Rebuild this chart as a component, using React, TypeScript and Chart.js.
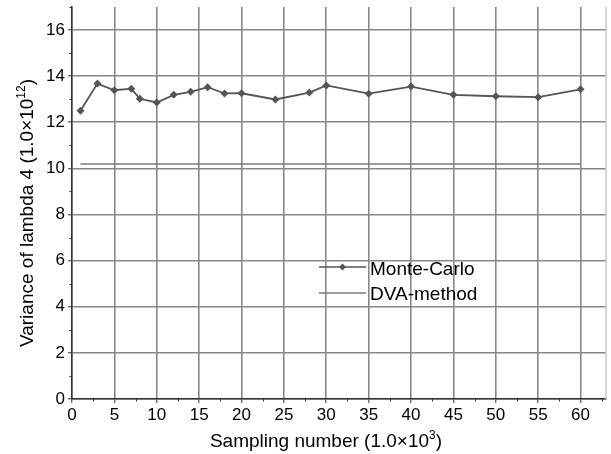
import React, { useEffect, useRef } from "react";
import { Chart, registerables } from "chart.js";

Chart.register(...registerables);

const sampleNumbers = [1, 3, 5, 7, 8, 10, 12, 14, 16, 18, 20, 24, 28, 30, 35, 40, 45, 50, 55, 60];
const monteCarlo = [12.5, 13.68, 13.39, 13.46, 13.02, 12.86, 13.19, 13.32, 13.52, 13.25, 13.26, 12.99, 13.29, 13.6, 13.24, 13.55, 13.19, 13.13, 13.09, 13.43];
const dvaX = [1, 60];
const dvaY = [10.19, 10.19];
const seriesNames = ["Monte-Carlo", "DVA-method"];
const xMinorTicks = [2.5, 7.5, 12.5, 17.5, 22.5, 27.5, 32.5, 37.5, 42.5, 47.5, 52.5, 57.5, 62.5];
const yMinorTicks = [1, 3, 5, 7, 9, 11, 13, 15, 17];

const FONT = '"Liberation Sans", Arial, sans-serif';
const MC_COLOR = "#555555";
const DVA_COLOR = "#7a7a7a";
const GRID = "#888888";
const AXIS = "#333333";

type Part = { t: string; sup?: boolean };

function partsWidth(ctx: CanvasRenderingContext2D, parts: Part[], size: number) {
  let w = 0;
  for (const p of parts) {
    ctx.font = `${p.sup ? Math.round(size * 0.62) : size}px ${FONT}`;
    w += ctx.measureText(p.t).width;
  }
  return w;
}

function drawParts(ctx: CanvasRenderingContext2D, parts: Part[], x: number, y: number, size: number) {
  let cx = x;
  for (const p of parts) {
    const s = p.sup ? Math.round(size * 0.62) : size;
    ctx.font = `${s}px ${FONT}`;
    ctx.fillText(p.t, cx, p.sup ? y - size * 0.4 : y);
    cx += ctx.measureText(p.t).width;
  }
}

const decorPlugin = {
  id: "decor",
  afterDraw(chart: any) {
    const ctx: CanvasRenderingContext2D = chart.ctx;
    const xs = chart.scales.x;
    const ys = chart.scales.y;
    const area = chart.chartArea;
    ctx.save();
    // right border
    ctx.strokeStyle = "#c8c8c8";
    ctx.lineWidth = 1.5;
    ctx.beginPath();
    ctx.moveTo(area.right, area.top);
    ctx.lineTo(area.right, area.bottom);
    ctx.stroke();
    // minor ticks
    ctx.strokeStyle = AXIS;
    ctx.lineWidth = 1;
    ctx.beginPath();
    for (const v of xMinorTicks) {
      const px = Math.round(xs.getPixelForValue(v)) + 0.5;
      ctx.moveTo(px, area.bottom);
      ctx.lineTo(px, area.bottom + 2.5);
    }
    for (const v of yMinorTicks) {
      const py = Math.round(ys.getPixelForValue(v)) + 0.5;
      ctx.moveTo(area.left, py);
      ctx.lineTo(area.left - 2.5, py);
    }
    ctx.stroke();

    // legend
    const lx0 = 319, lx1 = 366, tx = 370;
    const rows = [
      { y: 267, color: MC_COLOR, marker: true, name: seriesNames[0], base: 275 },
      { y: 293, color: DVA_COLOR, marker: false, name: seriesNames[1], base: 300 },
    ];
    for (const r of rows) {
      ctx.strokeStyle = r.color;
      ctx.lineWidth = 1.6;
      ctx.beginPath();
      ctx.moveTo(lx0, r.y);
      ctx.lineTo(lx1, r.y);
      ctx.stroke();
      if (r.marker) {
        const mx = (lx0 + lx1) / 2;
        ctx.fillStyle = r.color;
        ctx.beginPath();
        ctx.moveTo(mx, r.y - 3.5);
        ctx.lineTo(mx + 3.5, r.y);
        ctx.lineTo(mx, r.y + 3.5);
        ctx.lineTo(mx - 3.5, r.y);
        ctx.closePath();
        ctx.fill();
      }
      ctx.fillStyle = "#000";
      ctx.font = `19px ${FONT}`;
      ctx.textAlign = "left";
      ctx.textBaseline = "alphabetic";
      ctx.fillText(r.name, tx, r.base);
    }

    // axis titles
    ctx.fillStyle = "#000";
    ctx.textAlign = "left";
    ctx.textBaseline = "alphabetic";
    const xParts: Part[] = [{ t: "Sampling number (1.0×10" }, { t: "3", sup: true }, { t: ")" }];
    const xw = partsWidth(ctx, xParts, 19);
    drawParts(ctx, xParts, 326 - xw / 2, 447, 19);

    const yParts: Part[] = [{ t: "Variance of lambda 4 (1.0×10" }, { t: "12", sup: true }, { t: ")" }];
    const yw = partsWidth(ctx, yParts, 19);
    ctx.translate(33, 213);
    ctx.rotate(-Math.PI / 2);
    drawParts(ctx, yParts, -yw / 2, 0, 19);
    ctx.restore();
  },
};

export default function App() {
  const ref = useRef<HTMLCanvasElement | null>(null);
  useEffect(() => {
    if (!ref.current) return;
    const chart = new Chart(ref.current, {
      type: "scatter",
      data: {
        datasets: [
          {
            label: seriesNames[0],
            data: sampleNumbers.map((x, i) => ({ x, y: monteCarlo[i] })),
            showLine: true,
            borderColor: MC_COLOR,
            backgroundColor: MC_COLOR,
            borderWidth: 1.8,
            pointStyle: "rectRot",
            pointRadius: 4,
            pointBorderWidth: 0,
          },
          {
            label: seriesNames[1],
            data: dvaX.map((x, i) => ({ x, y: dvaY[i] })),
            showLine: true,
            borderColor: DVA_COLOR,
            backgroundColor: DVA_COLOR,
            borderWidth: 1.6,
            pointRadius: 0,
          },
        ],
      },
      options: {
        responsive: false,
        animation: false,
        layout: { padding: { top: 7, right: 5, left: 0, bottom: 0 } },
        plugins: { legend: { display: false }, tooltip: { enabled: false } },
        scales: {
          x: {
            type: "linear",
            min: 0,
            max: 63,
            ticks: {
              stepSize: 5,
              includeBounds: false,
              color: "#000",
              font: { size: 17, family: FONT },
              padding: 2,
              maxRotation: 0,
            },
            grid: { color: GRID, lineWidth: 1.6, tickLength: 4, tickColor: AXIS, tickWidth: 1 },
            border: { color: AXIS, width: 1.5 },
            afterFit: (s: any) => {
              s.height = 55;
              s.paddingLeft = 0;
              s.paddingRight = 0;
            },
          },
          y: {
            type: "linear",
            min: 0,
            max: 17,
            ticks: {
              stepSize: 2,
              includeBounds: false,
              color: "#000",
              font: { size: 17, family: FONT },
              padding: 3,
            },
            grid: { color: GRID, lineWidth: 1.6, tickLength: 4, tickColor: AXIS, tickWidth: 1 },
            border: { color: AXIS, width: 1.5 },
            afterFit: (s: any) => {
              s.width = 72;
              s.paddingTop = 0;
              s.paddingBottom = 0;
            },
          },
        },
      },
      plugins: [decorPlugin],
    } as any);
    return () => chart.destroy();
  }, []);
  return (
    <div style={{ position: "fixed", left: 0, top: 0, width: 611, height: 454, background: "#fff" }}>
      <canvas ref={ref} width={611} height={454} style={{ display: "block" }} />
    </div>
  );
}
